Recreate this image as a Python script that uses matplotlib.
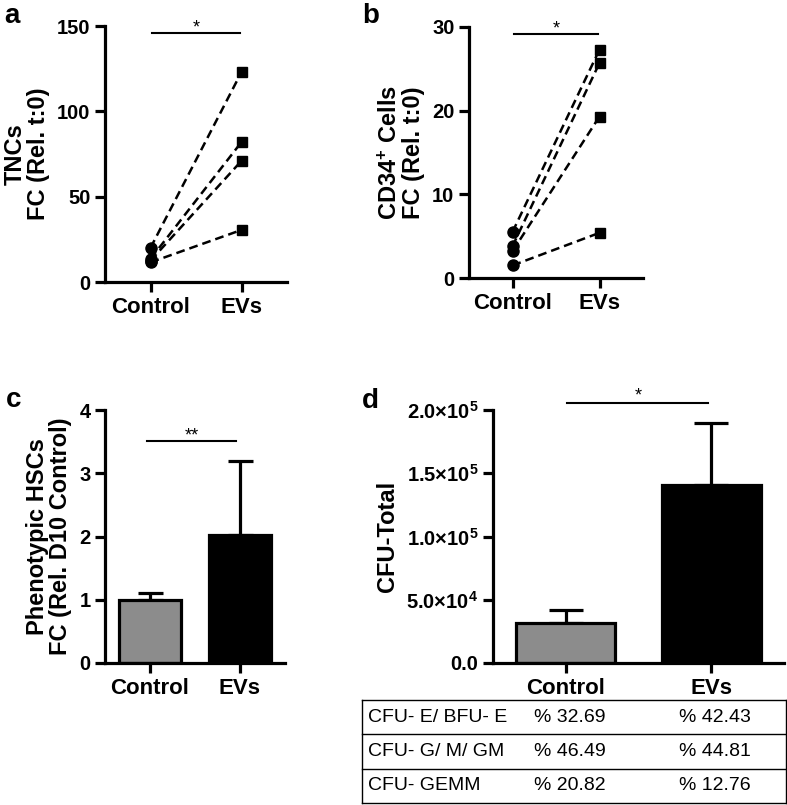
import matplotlib
matplotlib.use("Agg")
import matplotlib.pyplot as plt
import numpy as np

plt.rcParams['font.family'] = ['Liberation Sans', 'DejaVu Sans']
plt.rcParams['font.weight'] = 'bold'
plt.rcParams['mathtext.fontset'] = 'custom'
plt.rcParams['mathtext.rm'] = 'Liberation Sans:bold'
plt.rcParams['mathtext.bf'] = 'Liberation Sans:bold'
plt.rcParams['mathtext.it'] = 'Liberation Sans:bold'

# ---------------- data ----------------
groups = ["Control", "EVs"]

tnc_control = [20.0, 13.5, 12.5, 11.5]
tnc_evs = [123.0, 82.0, 71.0, 30.5]

cd34_control = [5.5, 3.8, 3.2, 1.5]
cd34_evs = [27.3, 25.7, 19.3, 5.4]

hsc_mean = [1.0, 2.02]
hsc_err = [0.1, 1.18]

cfu_mean = [31500, 140500]
cfu_err = [10500, 49000]
cfu_ticks = [0, 5e4, 1e5, 1.5e5, 2e5]
cfu_ticklabels = ["0.0", r"5.0×10$^{\mathbf{4}}$", r"1.0×10$^{\mathbf{5}}$",
                  r"1.5×10$^{\mathbf{5}}$", r"2.0×10$^{\mathbf{5}}$"]

table_rows = ["CFU- E/ BFU- E", "CFU- G/ M/ GM", "CFU- GEMM"]
table_control = ["% 32.69", "% 46.49", "% 20.82"]
table_evs = ["% 42.43", "% 44.81", "% 12.76"]

bar_colors = ["#8c8c8c", "#000000"]

W, H = 787, 805
fig = plt.figure(figsize=(W / 100, H / 100), dpi=100)

def ax_px(x0, y0, x1, y1):
    return fig.add_axes([x0 / W, 1 - y1 / H, (x1 - x0) / W, (y1 - y0) / H])

def style(ax):
    for s in ['top', 'right']:
        ax.spines[s].set_visible(False)
    for s in ['left', 'bottom']:
        ax.spines[s].set_linewidth(2.3)
    ax.tick_params(width=2.3, length=7.5, pad=3)
    ax.tick_params(axis='y', labelsize=14.5)
    ax.tick_params(axis='x', labelsize=16)
    ax.set_xticks([0, 1])
    ax.set_xticklabels(groups)
    for lab in ax.get_xticklabels() + ax.get_yticklabels():
        lab.set_fontweight('bold')
    ax.set_xlim(-0.5, 1.5)

def ylab(ax, text, pad=5):
    ax.set_ylabel(text, fontsize=17, fontweight='bold', labelpad=pad, linespacing=1.0)

def sig(ax, y, text, x0=0.02, x1=0.98, off=0.5):
    ax.plot([x0, x1], [y, y], color='black', lw=1.5, clip_on=False)
    ax.annotate(text, xy=((x0 + x1) / 2, y), xytext=(0, off), textcoords='offset points',
                ha='center', va='baseline', fontsize=13, fontweight='normal', annotation_clip=False)

# panel a
axa = ax_px(105, 26, 287, 282)
style(axa)
for c, e in zip(tnc_control, tnc_evs):
    axa.plot([0, 1], [c, e], color='black', ls=(0, (3.5, 2)), lw=1.8, zorder=2)
axa.plot([0] * len(tnc_control), tnc_control, 'o', color='black', ms=8, zorder=3, clip_on=False)
axa.plot([1] * len(tnc_evs), tnc_evs, 's', color='black', ms=7.5, zorder=3, clip_on=False)
axa.set_ylim(0, 150)
axa.set_yticks([0, 50, 100, 150])
ylab(axa, "TNCs\nFC (Rel. t:0)")
sig(axa, 146, "*")

# panel b
axb = ax_px(469, 27, 643, 278)
style(axb)
for c, e in zip(cd34_control, cd34_evs):
    axb.plot([0, 1], [c, e], color='black', ls=(0, (3.5, 2)), lw=1.8, zorder=2)
axb.plot([0] * len(cd34_control), cd34_control, 'o', color='black', ms=8, zorder=3, clip_on=False)
axb.plot([1] * len(cd34_evs), cd34_evs, 's', color='black', ms=7.5, zorder=3, clip_on=False)
axb.set_ylim(0, 30)
axb.set_yticks([0, 10, 20, 30])
ylab(axb, "CD34$^{\\mathbf{+}}$ Cells\nFC (Rel. t:0)")
sig(axb, 29.2, "*")

# panel c
axc = ax_px(105, 410, 285, 663)
style(axc)
axc.bar([0, 1], hsc_mean, width=0.68, color=bar_colors, edgecolor='black', linewidth=2.3, zorder=2)
axc.errorbar([0, 1], hsc_mean, yerr=[[0, 0], hsc_err], fmt='none', ecolor='black',
             elinewidth=2.3, capsize=9, capthick=2.3, zorder=1)
axc.set_ylim(0, 4)
axc.set_yticks([0, 1, 2, 3, 4])
ylab(axc, "Phenotypic HSCs\nFC (Rel. D10 Control)")
sig(axc, 3.51, "**", x0=-0.03, x1=0.96)

# panel d
axd = ax_px(493, 410, 784, 663)
style(axd)
axd.bar([0, 1], cfu_mean, width=0.68, color=bar_colors, edgecolor='black', linewidth=2.3, zorder=2)
axd.errorbar([0, 1], cfu_mean, yerr=[[0, 0], cfu_err], fmt='none', ecolor='black',
             elinewidth=2.3, capsize=12, capthick=2.3, zorder=1)
axd.set_ylim(0, 2e5)
axd.set_yticks(cfu_ticks)
axd.set_yticklabels(cfu_ticklabels)
for lab in axd.get_yticklabels():
    lab.set_fontweight('bold')
ylab(axd, "CFU-Total")
sig(axd, 2.055e5, "*", x0=0.01, x1=0.98, off=1.5)

# table
axt = ax_px(362, 700, 786, 803)
axt.set_xlim(0, 1)
axt.set_ylim(len(table_rows), 0)
axt.axis('off')
n = len(table_rows)
for i in range(n + 1):
    axt.plot([0, 1], [i, i], color='black', lw=1.0, clip_on=False)
axt.plot([0, 0], [0, n], color='black', lw=1.0, clip_on=False)
axt.plot([1, 1], [0, n], color='black', lw=1.0, clip_on=False)
for i, (r, c, e) in enumerate(zip(table_rows, table_control, table_evs)):
    axt.text(0.013, i + 0.5, r, ha='left', va='center', fontsize=14, fontweight='normal')
    axt.text(0.49, i + 0.5, c, ha='center', va='center', fontsize=14, fontweight='normal')
    axt.text(0.833, i + 0.5, e, ha='center', va='center', fontsize=14, fontweight='normal')

# panel letters (left edge, baseline in pixels)
for letter, (x, y) in zip("abcd", [(4, 23), (362, 23), (6, 407), (362, 408)]):
    fig.text(x / W, 1 - y / H, letter, fontsize=20, fontweight='bold', ha='left', va='baseline')

fig.savefig("out.png", dpi=100)
